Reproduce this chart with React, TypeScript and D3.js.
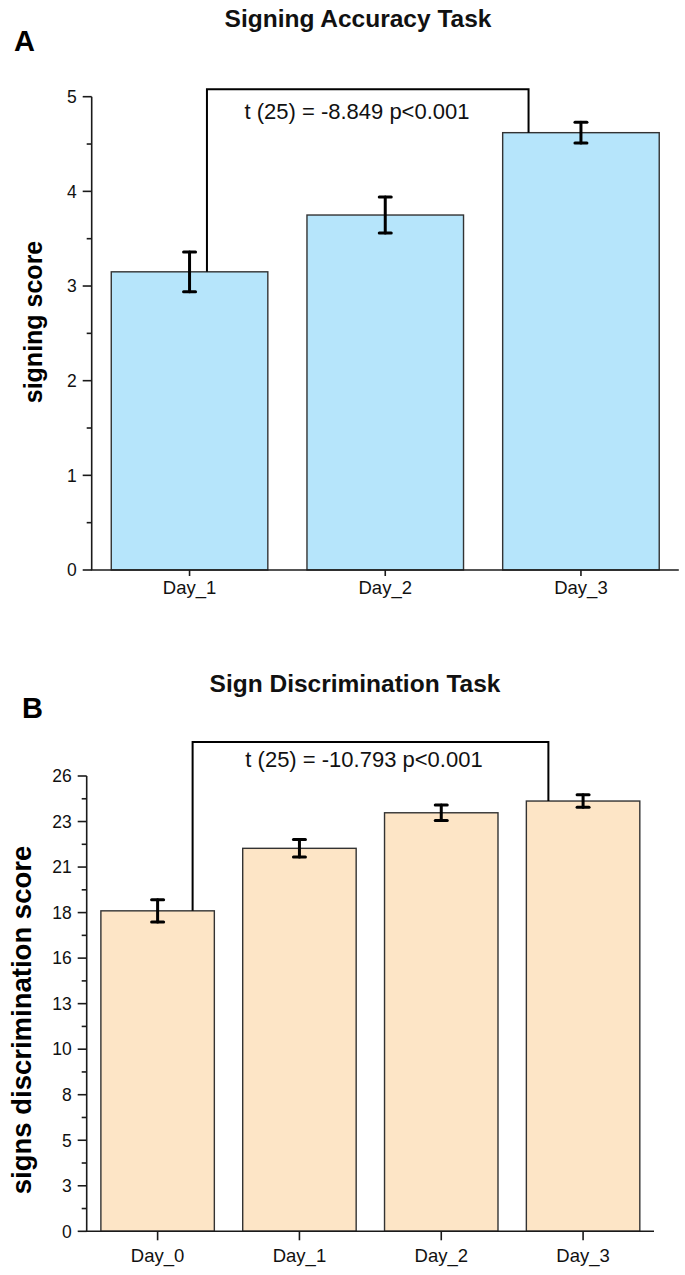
import React from "react";
import * as d3 from "d3";

// ---------- Data ----------
const catsA = ["Day_1", "Day_2", "Day_3"];
const meanA = [3.15, 3.75, 4.62];
const errA = [0.21, 0.19, 0.11];
const ticksA = [0, 1, 2, 3, 4, 5];
const tickLabelsA = ["0", "1", "2", "3", "4", "5"];
const minorA = [0.5, 1.5, 2.5, 3.5, 4.5];

const catsB = ["Day_0", "Day_1", "Day_2", "Day_3"];
const meanB = [18.3, 21.87, 23.9, 24.57];
const errB = [0.64, 0.5, 0.44, 0.36];
const ticksB = [0, 2.6, 5.2, 7.8, 10.4, 13, 15.6, 18.2, 20.8, 23.4, 26];
const tickLabelsB = ["0", "3", "5", "8", "10", "13", "16", "18", "21", "23", "26"];
const minorB = [1.3, 3.9, 6.5, 9.1, 11.7, 14.3, 16.9, 19.5, 22.1, 24.7];

const FONT = "'Liberation Sans', Arial, Helvetica, sans-serif";

type PanelProps = {
  cats: string[];
  means: number[];
  errs: number[];
  ticks: number[];
  tickLabels: string[];
  minor: number[];
  yMax: number;
  xRange: [number, number];
  yRange: [number, number];
  fill: string;
  title: string;
  titleX: number;
  titleY: number;
  letter: string;
  letterX: number;
  letterY: number;
  yTitle: string;
  yTitleX: number;
  yTitleY: number;
  yTitleSize: number;
  stat: string;
  statX: number;
  statY: number;
  xLabelOff: number;
  xTickLen: number;
  bracketFrom: number;
  bracketTo: number;
  bracketFromOff: number;
  bracketToOff: number;
  bracketTopVal: number;
};

function Panel(p: PanelProps) {
  const x = d3
    .scaleBand<string>()
    .domain(p.cats)
    .range(p.xRange)
    .paddingInner(0.2)
    .paddingOuter(0.1);
  const y = d3.scaleLinear().domain([0, p.yMax]).range(p.yRange);
  const bw = x.bandwidth();
  const cx = (c: string) => (x(c) as number) + bw / 2;
  const axX = p.xRange[0];
  const axY = p.yRange[0];
  const stroke = "#1a1a1a";
  const capW = 6;

  const bx1 = cx(p.cats[p.bracketFrom]) + p.bracketFromOff;
  const bx2 = cx(p.cats[p.bracketTo]) + p.bracketToOff;
  const by1 = y(p.means[p.bracketFrom]);
  const by2 = y(p.means[p.bracketTo]);
  const byTop = y(p.bracketTopVal);

  return (
    <g>
      <text x={p.titleX} y={p.titleY} textAnchor="middle" fontFamily={FONT} fontWeight="bold" fontSize={24.5} fill="#111">
        {p.title}
      </text>
      <text x={p.letterX} y={p.letterY} fontFamily={FONT} fontWeight="bold" fontSize={29} fill="#000">
        {p.letter}
      </text>

      {/* bars */}
      {p.cats.map((c, i) => (
        <rect
          key={c}
          x={x(c)}
          y={y(p.means[i])}
          width={bw}
          height={axY - y(p.means[i])}
          fill={p.fill}
          stroke="#333"
          strokeWidth={1.4}
        />
      ))}

      {/* error bars */}
      {p.cats.map((c, i) => {
        const xc = cx(c);
        const yt = y(p.means[i] + p.errs[i]);
        const yb = y(p.means[i] - p.errs[i]);
        return (
          <g key={"e" + c} stroke="#000" strokeWidth={3} strokeLinecap="round">
            <line x1={xc} x2={xc} y1={yt} y2={yb} />
            <line x1={xc - capW} x2={xc + capW} y1={yt} y2={yt} />
            <line x1={xc - capW} x2={xc + capW} y1={yb} y2={yb} />
          </g>
        );
      })}

      {/* bracket */}
      <path
        d={`M${bx1},${by1}V${byTop}H${bx2}V${by2}`}
        fill="none"
        stroke="#000"
        strokeWidth={2}
      />
      <text x={p.statX} y={p.statY} textAnchor="middle" fontFamily={FONT} fontSize={22} fill="#111">
        {p.stat}
      </text>

      {/* y axis */}
      <line x1={axX} x2={axX} y1={axY} y2={p.yRange[1]} stroke={stroke} strokeWidth={1.6} />
      {p.ticks.map((t, i) => (
        <g key={"t" + i}>
          <line x1={axX - 9} x2={axX} y1={y(t)} y2={y(t)} stroke={stroke} strokeWidth={1.6} />
          <text
            x={axX - 15}
            y={y(t)}
            dy="0.36em"
            textAnchor="end"
            fontFamily={FONT}
            fontSize={17.5}
            fill="#111"
          >
            {p.tickLabels[i]}
          </text>
        </g>
      ))}
      {p.minor.map((t, i) => (
        <line key={"m" + i} x1={axX - 5} x2={axX} y1={y(t)} y2={y(t)} stroke={stroke} strokeWidth={1.6} />
      ))}
      <text
        transform={`translate(${p.yTitleX},${p.yTitleY}) rotate(-90)`}
        textAnchor="middle"
        dy="0.35em"
        fontFamily={FONT}
        fontWeight="bold"
        fontSize={p.yTitleSize}
        fill="#000"
      >
        {p.yTitle}
      </text>

      {/* x axis */}
      <line x1={axX - 0.8} x2={p.xRange[1]} y1={axY} y2={axY} stroke={stroke} strokeWidth={1.6} />
      {p.cats.map((c) => (
        <g key={"x" + c}>
          <line x1={cx(c)} x2={cx(c)} y1={axY} y2={axY + p.xTickLen} stroke={stroke} strokeWidth={1.6} />
          <text x={cx(c)} y={axY + p.xLabelOff} textAnchor="middle" fontFamily={FONT} fontSize={18.5} fill="#111">
            {c}
          </text>
        </g>
      ))}
    </g>
  );
}

export default function App() {
  return (
    <svg
      width={685}
      height={1275}
      viewBox="0 0 685 1275"
      style={{ position: "absolute", left: 0, top: 0, background: "#fff" }}
    >
      <rect width={685} height={1275} fill="#fff" />
      <Panel
        cats={catsA}
        means={meanA}
        errs={errA}
        ticks={ticksA}
        tickLabels={tickLabelsA}
        minor={minorA}
        yMax={5}
        xRange={[91.7, 678.8]}
        yRange={[570, 96.7]}
        fill="#B6E5FB"
        title="Signing Accuracy Task"
        titleX={358}
        titleY={27}
        letter="A"
        letterX={14}
        letterY={51}
        yTitle="signing score"
        yTitleX={33}
        yTitleY={322}
        yTitleSize={25}
        stat="t (25) = -8.849 p<0.001"
        statX={357}
        statY={119}
        xLabelOff={24}
        xTickLen={6}
        bracketFrom={0}
        bracketTo={2}
        bracketFromOff={17.4}
        bracketToOff={-52.4}
        bracketTopVal={5.08}
      />
      <Panel
        cats={catsB}
        means={meanB}
        errs={errB}
        ticks={ticksB}
        tickLabels={tickLabelsB}
        minor={minorB}
        yMax={26}
        xRange={[86.7, 654]}
        yRange={[1231.3, 776]}
        fill="#FDE5C6"
        title="Sign Discrimination Task"
        titleX={355}
        titleY={692}
        letter="B"
        letterX={22}
        letterY={718}
        yTitle="signs discrimination score"
        yTitleX={21}
        yTitleY={1020}
        yTitleSize={27.5}
        stat="t (25) = -10.793 p<0.001"
        statX={364}
        statY={767}
        xLabelOff={31}
        xTickLen={9}
        bracketFrom={0}
        bracketTo={3}
        bracketFromOff={35}
        bracketToOff={-34.7}
        bracketTopVal={27.94}
      />
    </svg>
  );
}
